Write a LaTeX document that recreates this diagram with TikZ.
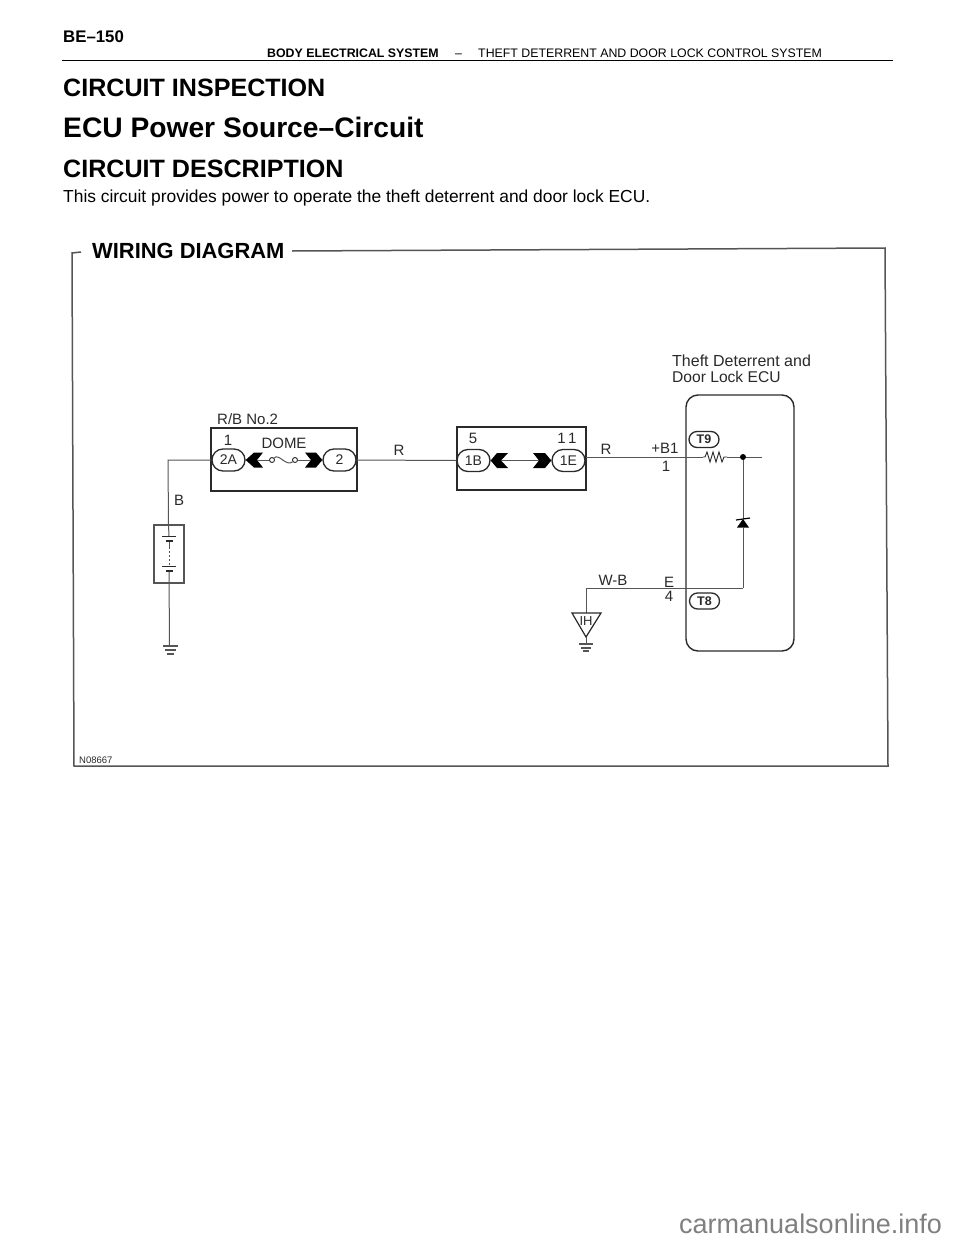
\documentclass[tikz,border=0pt]{standalone}
\usepackage{fontspec}
\setmainfont{Liberation Sans}
\usetikzlibrary{shapes.misc}
\newcommand{\fz}[1]{\fontsize{#1pt}{#1pt}\selectfont}
\definecolor{ink}{HTML}{2A2A2A}
\definecolor{wire}{HTML}{555555}
\tikzset{
 txt/.style={anchor=base west,inner sep=0pt,text=black},
 lab/.style={anchor=base,inner sep=0pt,text=ink,font=\fz{15}},
 wirel/.style={draw=wire,line width=1pt},
 boxl/.style={draw=ink,line width=1.4pt},
 pill/.style={rounded rectangle,draw=ink,line width=1.3pt,inner sep=0pt,minimum width=33pt,minimum height=22pt,text=ink,font=\fz{14}},
 tpill/.style={rounded rectangle,draw=ink,line width=1.3pt,inner sep=0pt,minimum width=30pt,minimum height=16pt,text=ink,font=\bfseries\fz{12.5}},
 term/.style={circle,draw=ink,line width=.9pt,fill=white,inner sep=0pt,minimum size=5pt},
 gnd/.style={draw=wire,line width=1.1pt},
}
\begin{document}
\begin{tikzpicture}[x=1pt,y=-1pt]
\useasboundingbox (0,0) rectangle (960,1242);
\fill[white] (0,0) rectangle (960,1242);
% page header
\node[txt,font=\bfseries\fz{16.8}] (page) at (63,42) {BE–150};
\node[txt,font=\bfseries\fz{12.35}] (hA) at (267,57) {BODY ELECTRICAL SYSTEM};
\node[txt,font=\fz{12.35}] (hB) at (455,57) {–};
\node[txt,font=\fz{12.35}] (hC) at (478,57) {THEFT DETERRENT AND DOOR LOCK CONTROL SYSTEM};
\draw[black,line width=1.5pt] (62,60.5) -- (893,60.5);
\node[txt,font=\bfseries\fz{25.1}] (h1) at (63,96) {CIRCUIT INSPECTION};
\node[txt,font=\bfseries\fz{28.2}] (h2) at (63,137) {ECU Power Source–Circuit};
\node[txt,font=\bfseries\fz{25.1}] (h3) at (63,177) {CIRCUIT DESCRIPTION};
\node[txt,font=\fz{17.4}] (desc) at (63,202) {This circuit provides power to operate the theft deterrent and door lock ECU.};
% frame
\node[txt,font=\bfseries\fz{21.9}] (wd) at (92,258) {WIRING DIAGRAM};
\draw[wire,line width=1.5pt] (81,252) -- (72,253) -- (74,766) -- (888,766) -- (885,248) -- (292,251);
\node[txt,font=\fz{9.5},text=ink] (code) at (79,763.5) {N08667};
% R/B box
\draw[boxl] (211,428) rectangle (357,491);
\node[lab,anchor=base west] (rb) at (217,424) {R/B No.2};
\node[pill] (p2A) at (228.5,460) {2A};
\node[pill] (p2) at (339.5,460) {2};
\node[lab] (n1) at (228,445) {1};
\node[lab] (dome) at (284,448) {DOME};
\fill[black] (p2A.east) -- (254,452.5) -- (263,452.5) -- (257,460) -- (263,467.5) -- (254,467.5) -- cycle;
\fill[black] (p2.west) -- (316,452.5) -- (305,452.5) -- (311,460) -- (305,467.5) -- (316,467.5) -- cycle;
\node[term] (f1) at (272,460) {};
\node[term] (f2) at (295,460) {};
\draw[wirel] (257,460) -- (f1);
\draw[wirel] (f2) -- (311,460);
\draw[wirel] (f1) .. controls (279,453) and (286,467) .. (f2);
% battery
\draw[boxl,draw=wire] (154,525) rectangle (184,583);
\coordinate (gA) at (169.5,646);
\draw[wirel] (p2A.west) -- (168,460) -- (168.5,525) -- (169,536);
\draw[wirel] (169,541) -- (169,547);
\draw[wirel,dash pattern=on 2pt off 2pt] (169,547) -- (169,566);
\draw[wirel] (169,571) -- (gA);
\draw[ink,line width=1pt] (162,536.5) -- (176,536.5);
\draw[ink,line width=1.8pt] (166,541) -- (173,541);
\draw[ink,line width=1pt] (162,566.5) -- (176,566.5);
\draw[ink,line width=1.8pt] (166,571) -- (173,571);
\draw[gnd] (163,646) -- (178,646) (165,650) -- (176,650) (167,654) -- (174,654);
\node[lab] (lB) at (179,505) {B};
% connector box
\draw[boxl] (457,427) rectangle (586,490);
\node[pill] (p1B) at (473.5,460.5) {1B};
\node[pill] (p1E) at (568.5,460.5) {1E};
\node[lab] (n5) at (473,443) {5};
\node[lab] (n11) at (567,443) {1\,1};
\fill[black] (p1B.east) -- (497,453) -- (508,453) -- (501,460.5) -- (508,468) -- (497,468) -- cycle;
\fill[black] (p1E.west) -- (545,453) -- (533,453) -- (539,460.5) -- (533,468) -- (545,468) -- cycle;
\draw[wirel] (501,460) -- (539,460);
\draw[wirel] (p2.east) -- (p1B.west);
\node[lab] (lR) at (399,455) {R};
% ECU
\node[lab,anchor=base west,font=\fz{16}] (e1) at (672,366) {Theft Deterrent and};
\node[lab,anchor=base west,font=\fz{15.6}] (e2) at (672,382) {Door Lock ECU};
\draw[boxl,rounded corners=12pt] (686,395) rectangle (794,651);
\node[tpill] (T9) at (704,439.5) {T9};
\node[tpill] (T8) at (704.5,601) {T8};
\node[lab] (lR2) at (606,454) {R};
\node[lab] (b1) at (665,453) {+B1};
\node[lab] (n1b) at (666,471) {1};
\coordinate (rs) at (703,457);
\coordinate (re) at (727,457);
\node[circle,fill=black,inner sep=0pt,minimum size=6pt] (dot) at (743,457) {};
\coordinate (wend) at (762,457);
\draw[wirel] (rs -| p1E.east) -- (rs);
\draw[ink,line width=.9pt] (rs) -- (705,457) -- (707,452) -- (710,462) -- (713,452) -- (716,462) -- (719,452) -- (722,462) -- (724,457) -- (re);
\draw[wirel] (re) -- (dot) -- (wend);
% zener
\coordinate (zt) at (743,518.5);
\draw[wirel] (dot) -- (zt);
\fill[black] (743,519) -- (737,527.5) -- (749,527.5) -- cycle;
\draw[black,line width=1.2pt] (736,520) -- (750,518);
\coordinate (cn) at (743,588);
\draw[wirel] (743,527) -- (cn);
% ground IH
\coordinate (tri) at (586,613);
\draw[wirel] (cn) -- (586,588) -- (tri);
\draw[ink,line width=1.2pt] (572,613) -- (601,613) -- (586,637) -- cycle;
\node[lab,font=\fz{13}] (ih) at (586,625.5) {IH};
\draw[wirel] (586,637) -- (586,644);
\draw[gnd] (579,644) -- (593,644) (581,648) -- (591,648) (583,651) -- (589,651);
\node[lab] (lWB) at (613,585) {W-B};
\node[lab] (lE) at (669,587) {E};
\node[lab] (l4) at (669,601) {4};
% watermark
\node[txt,font=\fz{27},text=gray] (wm) at (679,1233) {carmanualsonline.info};
\end{tikzpicture}
\end{document}
